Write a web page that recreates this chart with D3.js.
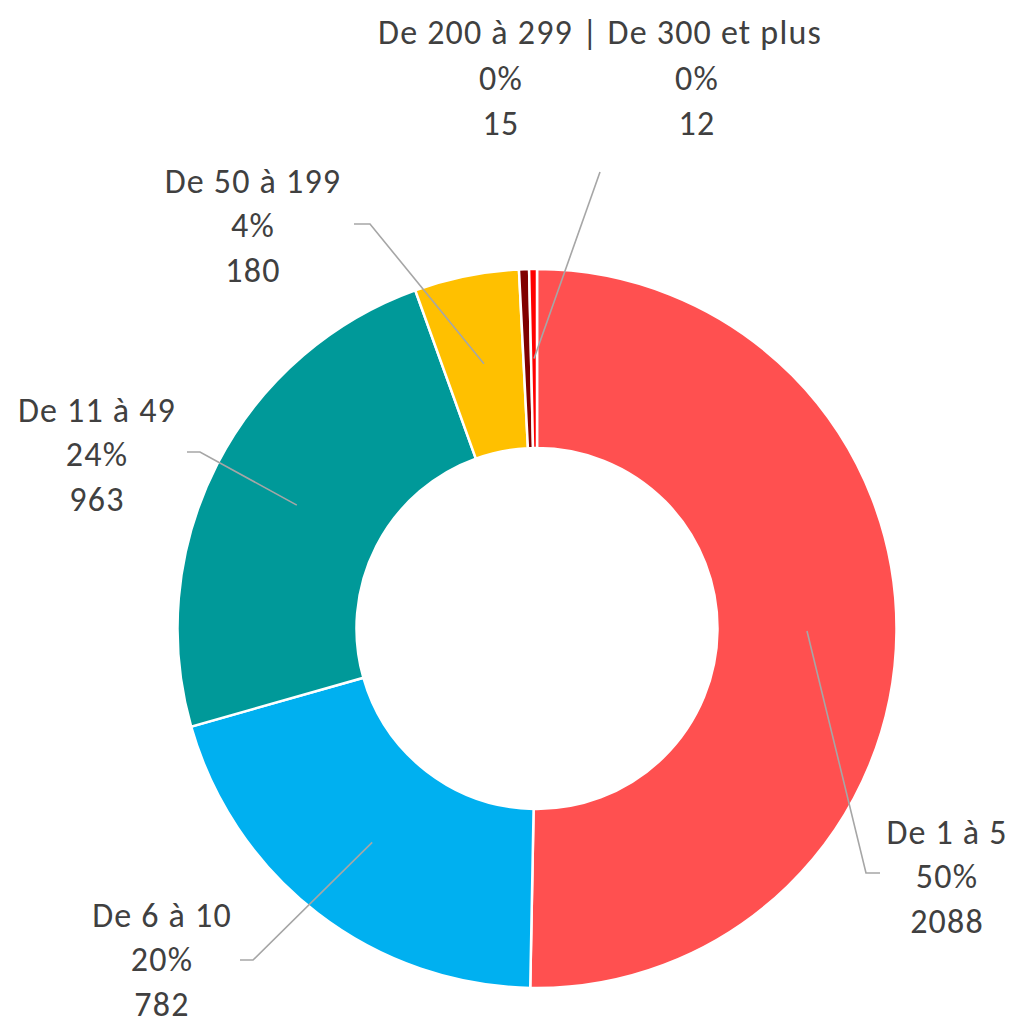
<!DOCTYPE html>
<html>
<head>
<meta charset="utf-8">
<script src="https://cdn.jsdelivr.net/npm/d3@7"></script>
<style>
  html, body { margin: 0; padding: 0; background: #fff; }
  text { font-family: Carlito, Lato, "Open Sans", sans-serif; fill: #404040; letter-spacing: 1.2px; }
</style>
</head>
<body>
<div id="chart"></div>
<script>
(() => {
"use strict";

const WIDTH = 1010, HEIGHT = 1021;

// data
const categories = ["De 1 à 5", "De 6 à 10", "De 11 à 49", "De 50 à 199", "De 200 à 299", "De 300 et plus"];
const counts = [2088, 782, 963, 180, 15, 12];
const percentLabels = ["50%", "20%", "24%", "4%", "0%", "0%"];
const shares = [50.3, 20.3, 23.9, 4.7, 0.45, 0.35];
const colors = ["#FF5050", "#00B0F0", "#009999", "#FFC000", "#800000", "#FF0000"];

const cx = 537, cy = 628.5;
const outerR = 359.5, innerR = 180.5;
const FONT = 34, LINE = 44.5;

let svg = d3.select("#chart").append("svg")
  .attr("width", WIDTH)
  .attr("height", HEIGHT);

let g = svg.append("g").attr("transform", `translate(${cx},${cy})`);

let pie = d3.pie().sort(null).value(d => d.share);
let arc = d3.arc().innerRadius(innerR).outerRadius(outerR);

let rows = categories.map((c, i) => ({
  name: c, count: counts[i], pct: percentLabels[i], share: shares[i], color: colors[i]
}));
let arcs = pie(rows);

g.selectAll("path.slice")
  .data(arcs)
  .join("path")
  .attr("class", "slice")
  .attr("d", arc)
  .attr("fill", d => d.data.color)
  .attr("stroke", "#fff")
  .attr("stroke-width", 2.5);

// label layout: text centre x, first line centre y, elbow end (absolute coords)
let layout = [
  { tx: 947, ty: 832, ex: 866, ey: 873, hx: 880 },
  { tx: 162, ty: 915, ex: 253, ey: 960, hx: 240 },
  { tx: 97,  ty: 410, ex: 200, ey: 452, hx: 187 },
  { tx: 253, ty: 181, ex: 370, ey: 224, hx: 354 }
];

let leaders = svg.append("g")
  .attr("fill", "none")
  .attr("stroke", "#A6A6A6")
  .attr("stroke-width", 1.6);

layout.forEach((L, i) => {
  let c = arc.centroid(arcs[i]);
  leaders.append("polyline")
    .attr("points", [[cx + c[0], cy + c[1]], [L.ex, L.ey], [L.hx, L.ey]].map(p => p.join(",")).join(" "));
  let t = svg.append("text")
    .attr("text-anchor", "middle")
    .attr("font-size", FONT);
  [rows[i].name, rows[i].pct, String(rows[i].count)].forEach((s, k) => {
    t.append("tspan")
      .attr("x", L.tx)
      .attr("y", L.ty + k * LINE)
      .attr("dy", "0.35em")
      .text(s);
  });
});

// combined label for the two smallest slices
let cSmall = arc.centroid(arcs[5]);
leaders.append("polyline")
  .attr("points", [[cx + cSmall[0], cy + cSmall[1]], [600, 172]].map(p => p.join(",")).join(" "));

svg.append("text")
  .attr("text-anchor", "middle")
  .attr("font-size", FONT)
  .attr("x", 600).attr("y", 32).attr("dy", "0.35em")
  .text(`${categories[4]} | ${categories[5]}`);

[[501, 4], [697, 5]].forEach(([x, i]) => {
  svg.append("text")
    .attr("text-anchor", "middle")
    .attr("font-size", FONT)
    .attr("x", x).attr("y", 78).attr("dy", "0.35em")
    .text(percentLabels[i]);
  svg.append("text")
    .attr("text-anchor", "middle")
    .attr("font-size", FONT)
    .attr("x", x).attr("y", 123).attr("dy", "0.35em")
    .text(String(counts[i]));
});
})();
</script>
</body>
</html>
